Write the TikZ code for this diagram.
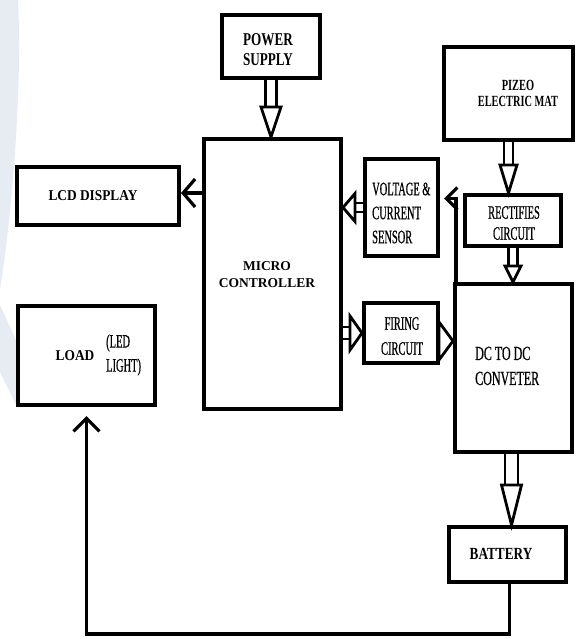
\documentclass[tikz,border=0pt]{standalone}
\usepackage{fontspec}
\setmainfont{Liberation Serif}
\newfontfamily\fps[FakeStretch=0.73]{Liberation Serif}
\newfontfamily\flcd[FakeStretch=0.89]{Liberation Serif}
\newfontfamily\fpm[FakeStretch=0.67]{Liberation Serif}
\newfontfamily\fbat[FakeStretch=0.78]{Liberation Serif}
\newfontfamily\fnar[FakeStretch=0.55,FakeBold=0.6]{Liberation Serif}
\newfontfamily\fdc[FakeStretch=0.6,FakeBold=0.6]{Liberation Serif}
\usetikzlibrary{arrows.meta,calc}
\definecolor{wm}{RGB}{231,236,242}
\newcommand\harrow[5]{% start, end, head length, head half width, shaft half width
  \coordinate (hb) at ($(#2)!#3!(#1)$);
  \draw[hollow] ($(#1)!#5!90:(#2)$) -- ($(hb)!#5!90:(#2)$);
  \draw[hollow] ($(#1)!#5!-90:(#2)$) -- ($(hb)!#5!-90:(#2)$);
  \draw[hollow,fill=white] ($(hb)!#4!90:(#2)$) -- (#2) -- ($(hb)!#4!-90:(#2)$) -- cycle;
}
\tikzset{
  box/.style={draw, line width=4pt, inner sep=0pt},
  conn/.style={line width=3.2pt},
  hollow/.style={line width=2.8pt, line join=miter},
  txt/.style={inner sep=0pt, align=center},
}
\begin{document}
\begin{tikzpicture}[x=1pt,y=-1pt]
\useasboundingbox (0,0) rectangle (576,639);
% faint background watermark
\fill[wm] (0,0) -- (18,0) .. controls (22,80) and (14,200) .. (0,290) -- cycle;
\fill[wm] (0,305) -- (16,340) -- (16,405) -- (0,372) -- cycle;

% boxes
\node[box, minimum width=98pt,  minimum height=63pt]  (ps)   at (271,46.5) {};
\node[box, minimum width=137pt, minimum height=270pt] (mc)   at (272.5,274) {};
\node[box, minimum width=162pt, minimum height=58pt]  (lcd)  at (98,196) {};
\node[box, minimum width=137pt, minimum height=99pt]  (load) at (86.5,355.5) {};
\node[box, minimum width=73pt,  minimum height=97pt]  (vs)   at (401.5,207.5) {};
\node[box, minimum width=129pt, minimum height=93pt]  (pm)   at (508.5,93.5) {};
\node[box, minimum width=96pt,  minimum height=51pt]  (rc)   at (513,220.5) {};
\node[box, minimum width=74pt,  minimum height=60pt]  (fc)   at (401,333) {};
\node[box, minimum width=117pt, minimum height=168pt] (dc)   at (513.5,368) {};
\node[box, minimum width=117pt, minimum height=55pt]  (bat)  at (507.5,554.5) {};

% texts
\node[txt, font=\fps\bfseries\fontsize{18}{20}\selectfont] (tps) at (268,50) {POWER\\SUPPLY};
\node[txt, font=\bfseries\fontsize{13.5}{17}\selectfont] (tmc) at (267,275) {MICRO\\CONTROLLER};
\node[txt, font=\flcd\bfseries\fontsize{15}{18}\selectfont] (tlcd) at (93,196) {LCD DISPLAY};
\node[txt, font=\flcd\bfseries\fontsize{15}{18}\selectfont] (tload) at (75,356) {LOAD};
\node[txt, align=left, anchor=west, font=\fnar\fontsize{19}{24}\selectfont] (tled) at (106,355) {(LED\\LIGHT)};
\node[txt, align=left, anchor=west, font=\fnar\fontsize{19}{24}\selectfont] (tvs) at (372,213) {VOLTAGE \&\\CURRENT\\SENSOR};
\node[txt, font=\fpm\bfseries\fontsize{15.5}{16}\selectfont] (tpm) at (518,93) {PIZEO\\ELECTRIC MAT};
\node[txt, font=\fnar\fontsize{19}{21}\selectfont] (trc) at (514,223) {RECTIFIES\\CIRCUIT};
\node[txt, font=\fnar\fontsize{19}{25}\selectfont] (tfc) at (402,336) {FIRING\\CIRCUIT};
\node[txt, align=left, anchor=west, font=\fdc\fontsize{20}{25}\selectfont] (tdc) at (475,366) {DC TO DC\\CONVETER};
\node[txt, font=\fbat\bfseries\fontsize{17}{20}\selectfont] (tbat) at (501,554) {BATTERY};

% hollow arrows
\coordinate (a1) at (ps.south |- mc.north);
\harrow{ps.south}{a1}{30pt}{10pt}{5.5pt}
\coordinate (a2) at (pm.south |- rc.north);
\harrow{pm.south}{a2}{28pt}{8.5pt}{4.5pt}
\coordinate (a3) at (rc.south |- dc.north);
\harrow{rc.south}{a3}{16pt}{8pt}{4.5pt}
\coordinate (a4s) at ($(dc.south)+(-2,0)$);
\coordinate (a4) at (a4s |- bat.north);
\harrow{a4s}{a4}{40pt}{10pt}{6.5pt}
\coordinate (a5) at (vs.west -| mc.east);
\harrow{vs.west}{a5}{12pt}{14pt}{4.5pt}
\coordinate (a6) at (mc.east |- fc.west);
\harrow{a6}{fc.west}{12pt}{17pt}{6pt}
\coordinate (a7s) at ($(fc.east)+(0,8)$);
\coordinate (a7) at (a7s -| dc.west);
\harrow{a7s}{a7}{14pt}{19pt}{7pt}

% line connectors
\draw[conn, -{Straight Barb[length=12pt,width=28pt]}] ($(lcd.east -| mc.west)+(0,-3)$) -- ($(lcd.east)+(0,-3)$);
\coordinate (tap) at ($(dc.north west)+(3,0)$);
\coordinate (tapend) at ($(vs.east)+(4,-9)$);
\draw[conn, -{Straight Barb[length=11pt,width=22pt]}] (tap) |- (tapend);
\coordinate (bot) at (300,634);
\draw[conn, shorten >=9pt, -{Straight Barb[length=13pt,width=26pt]}] ($(bat.south)+(2,0)$) |- (bot) -| (load.south);
\end{tikzpicture}
\end{document}
